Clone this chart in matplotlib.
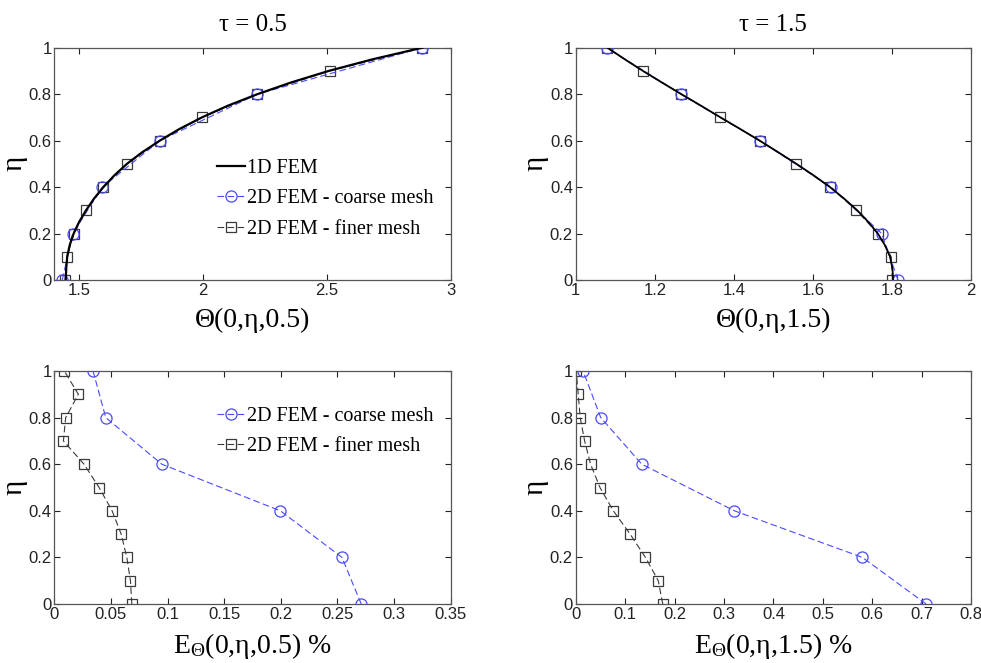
import matplotlib
matplotlib.use("Agg")
import matplotlib.pyplot as plt
from matplotlib.ticker import FuncFormatter

# ---- data ----
eta_fine = [0.0, 0.1, 0.2, 0.3, 0.4, 0.5, 0.6, 0.7, 0.8, 0.9, 1.0]
eta_coarse = [0.0, 0.2, 0.4, 0.6, 0.8, 1.0]
eta_1d = [0.0, 0.05, 0.1, 0.15, 0.2, 0.25, 0.3, 0.35, 0.4, 0.45, 0.5,
          0.55, 0.6, 0.65, 0.7, 0.75, 0.8, 0.85, 0.9, 0.95, 1.0]

# tau = 0.5 temperature profiles
theta05_1d = [1.446, 1.448, 1.452, 1.462, 1.478, 1.500, 1.528, 1.560, 1.598, 1.642, 1.693,
              1.755, 1.826, 1.905, 1.996, 2.100, 2.220, 2.355, 2.508, 2.685, 2.886]
theta05_coarse = [1.432, 1.474, 1.594, 1.826, 2.220, 2.886]
theta05_fine = [1.443, 1.450, 1.479, 1.528, 1.598, 1.693, 1.826, 1.996, 2.220, 2.512, 2.886]

# tau = 1.5 temperature profiles
theta15_1d = [1.803, 1.801, 1.795, 1.782, 1.764, 1.740, 1.712, 1.679, 1.643, 1.602, 1.558,
              1.512, 1.465, 1.416, 1.366, 1.317, 1.267, 1.218, 1.170, 1.124, 1.080]
theta15_coarse = [1.815, 1.774, 1.646, 1.465, 1.266, 1.078]
theta15_fine = [1.801, 1.798, 1.764, 1.710, 1.643, 1.557, 1.465, 1.365, 1.266, 1.169, 1.078]

# relative errors (%)
err05_coarse = [0.271, 0.254, 0.1996, 0.0949, 0.0454, 0.0342]
err05_fine = [0.0684, 0.0672, 0.064, 0.059, 0.051, 0.0395, 0.0262, 0.008, 0.010, 0.0212, 0.0088]
err15_coarse = [0.709, 0.580, 0.321, 0.1336, 0.0506, 0.0148]
err15_fine = [0.176, 0.167, 0.141, 0.110, 0.076, 0.049, 0.030, 0.018, 0.009, 0.005, 0.001]

xticks_t05 = [1.5, 2, 2.5, 3]
xticks_t15 = [1, 1.2, 1.4, 1.6, 1.8, 2]
xticks_e05 = [0, 0.05, 0.1, 0.15, 0.2, 0.25, 0.3, 0.35]
xticks_e15 = [0, 0.1, 0.2, 0.3, 0.4, 0.5, 0.6, 0.7, 0.8]
yticks = [0, 0.2, 0.4, 0.6, 0.8, 1]

SERIF = "Liberation Serif"
SANS = "Liberation Sans"
BLUE = "#4a4aff"
GREY = "#3a3a3a"

plt.rcParams["font.family"] = SANS
plt.rcParams["mathtext.fontset"] = "custom"
plt.rcParams["mathtext.rm"] = SERIF
plt.rcParams["mathtext.it"] = SERIF + ":italic"

fig = plt.figure(figsize=(9.81, 6.63), dpi=100)
fig.patch.set_facecolor("white")

ax_tl = fig.add_axes([0.0554, 0.5777, 0.404, 0.3504])
ax_tr = fig.add_axes([0.5869, 0.5777, 0.403, 0.3504])
ax_bl = fig.add_axes([0.0554, 0.0890, 0.404, 0.3514])
ax_br = fig.add_axes([0.5869, 0.0890, 0.403, 0.3514])

fmt = FuncFormatter(lambda v, p: f"{v:g}")
leg_kw = dict(frameon=False, prop={"family": SERIF, "size": 14.5}, handlelength=1.4,
              handletextpad=0.1, labelspacing=0.55, borderaxespad=0, borderpad=0)


def style(ax, xlim, xticks):
    ax.set_xlim(*xlim)
    ax.set_ylim(0, 1)
    ax.set_xticks(xticks)
    ax.set_yticks(yticks)
    ax.xaxis.set_major_formatter(fmt)
    ax.yaxis.set_major_formatter(fmt)
    ax.tick_params(direction="in", top=True, right=True, length=4, width=0.8,
                   labelsize=12, pad=2, colors="#222222")
    for sp in ax.spines.values():
        sp.set_color("#555555")
        sp.set_linewidth(0.9)
    ax.set_ylabel("η", family=SERIF, fontsize=21, labelpad=1)


def coarse(ax, x, y):
    return ax.plot(x, y, ls=(0, (6, 3)), color=BLUE, lw=0.8, marker="o", ms=8,
                   mfc="none", mec=BLUE, mew=0.9, label="2D FEM - coarse mesh", zorder=3)


def fine(ax, x, y):
    return ax.plot(x, y, ls=(0, (6, 3)), color=GREY, lw=0.8, marker="s", ms=7.5,
                   mfc="none", mec=GREY, mew=0.9, label="2D FEM - finer mesh", zorder=2)


# top-left: tau = 0.5
coarse(ax_tl, theta05_coarse, eta_coarse)
fine(ax_tl, theta05_fine, eta_fine)
ax_tl.plot(theta05_1d, eta_1d, color="black", lw=1.6, label="1D FEM", zorder=4)
style(ax_tl, (1.4, 3), xticks_t05)
ax_tl.set_title("τ = 0.5", family=SERIF, fontsize=18, pad=12)
ax_tl.set_xlabel("Θ(0,η,0.5)", family=SERIF, fontsize=20, labelpad=7)
h, l = ax_tl.get_legend_handles_labels()
order = [2, 0, 1]
ax_tl.legend([h[i] for i in order], [l[i] for i in order], loc="upper left",
             bbox_to_anchor=(0.41, 0.52), **leg_kw)

# top-right: tau = 1.5
coarse(ax_tr, theta15_coarse, eta_coarse)
fine(ax_tr, theta15_fine, eta_fine)
ax_tr.plot(theta15_1d, eta_1d, color="black", lw=1.3, zorder=4)
style(ax_tr, (1, 2), xticks_t15)
ax_tr.set_title("τ = 1.5", family=SERIF, fontsize=18, pad=12)
ax_tr.set_xlabel("Θ(0,η,1.5)", family=SERIF, fontsize=20, labelpad=7)

# bottom-left: errors tau = 0.5
coarse(ax_bl, err05_coarse, eta_coarse)
fine(ax_bl, err05_fine, eta_fine)
style(ax_bl, (0, 0.35), xticks_e05)
ax_bl.set_xlabel(r"E$_{\Theta}$(0,η,0.5) %", family=SERIF, fontsize=20, labelpad=7)
ax_bl.legend(loc="upper left", bbox_to_anchor=(0.41, 0.845), **leg_kw)

# bottom-right: errors tau = 1.5
coarse(ax_br, err15_coarse, eta_coarse)
fine(ax_br, err15_fine, eta_fine)
style(ax_br, (0, 0.8), xticks_e15)
ax_br.set_xlabel(r"E$_{\Theta}$(0,η,1.5) %", family=SERIF, fontsize=20, labelpad=7)

fig.savefig("out.png", dpi=100)
